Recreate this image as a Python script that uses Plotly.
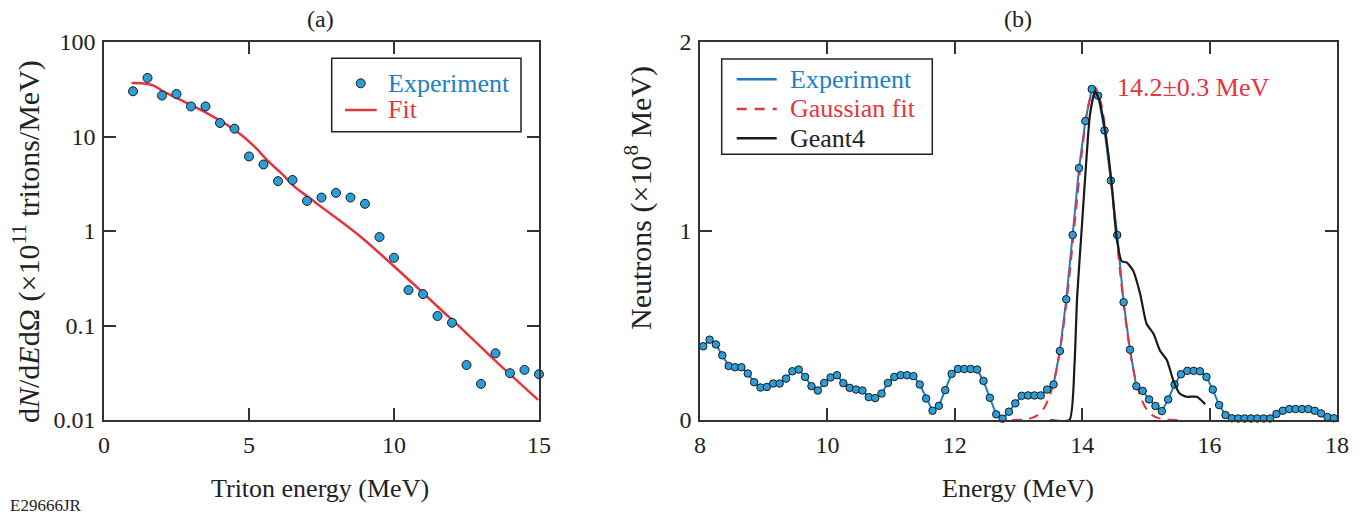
import plotly.graph_objects as go

W, H = 1364, 516
FONT = "Liberation Serif"
BLUE_FILL = "#2a9ed8"
BLUE_LINE = "#1f7cc2"
BLUE_TEXT = "#2080c6"
RED = "#e5343d"
AXIS = "#333333"

# ---------------- Panel (a) data ----------------
triton_energy = [1.0, 1.5, 2.0, 2.5, 3.0, 3.5, 4.0, 4.5, 5.0, 5.5, 6.0, 6.5, 7.0, 7.5,
                 8.0, 8.5, 9.0, 9.5, 10.0, 10.5, 11.0, 11.5, 12.0, 12.5, 13.0, 13.5,
                 14.0, 14.5, 15.0]
triton_counts = [30.1, 41.7, 27.1, 28.2, 20.8, 20.8, 13.9, 12.1, 6.15, 5.06, 3.37, 3.47,
                 2.08, 2.26, 2.53, 2.26, 1.94, 0.863, 0.521, 0.237, 0.215, 0.126, 0.107,
                 0.0382, 0.0241, 0.0508, 0.0313, 0.0339, 0.0305]
fit_energy = [0.95, 1.3, 1.69, 1.98, 2.55, 3.47, 4.51, 5.2, 5.66, 6.12, 6.58, 7.03, 7.72,
              8.88, 9.79, 10.71, 11.63, 12.32, 13.47, 14.97]
fit_counts = [36.9, 36.6, 34.8, 30.8, 25.1, 18.2, 11.7, 7.76, 5.48, 4.07, 2.93, 2.30, 1.60,
              0.855, 0.484, 0.268, 0.146, 0.0934, 0.0431, 0.0163]
a_ytickvals = [0.01, 0.1, 1, 10, 100]
a_yticktext = ["0.01", "0.1", "1", "10", "100"]
a_xtickvals = [0, 5, 10, 15]

# ---------------- Panel (b) data ----------------
neutron_energy = [round(8.05 + 0.1 * i, 2) for i in range(100)]
neutron_counts = [0.39, 0.425, 0.40, 0.342, 0.286, 0.279, 0.279, 0.246, 0.20, 0.172,
                  0.175, 0.193, 0.193, 0.219, 0.258, 0.267, 0.228, 0.179, 0.156, 0.196,
                  0.225, 0.237, 0.195, 0.170, 0.161, 0.156, 0.121, 0.116, 0.140, 0.196,
                  0.228, 0.237, 0.237, 0.232, 0.188, 0.114, 0.049, 0.075, 0.158, 0.244,
                  0.270, 0.270, 0.270, 0.267, 0.207, 0.118, 0.030, 0.007, 0.044, 0.088,
                  0.128, 0.130, 0.130, 0.130, 0.161, 0.188, 0.365, 0.639, 0.979, 1.333,
                  1.582, 1.751, 1.716, 1.532, 1.267, 0.979, 0.623, 0.372, 0.179, 0.154,
                  0.109, 0.074, 0.047, 0.109, 0.188, 0.242, 0.260, 0.260, 0.258, 0.228,
                  0.161, 0.079, 0.026, 0.009, 0.008, 0.008, 0.008, 0.008, 0.008, 0.008,
                  0.032, 0.049, 0.058, 0.058, 0.058, 0.058, 0.049, 0.035, 0.016, 0.009]
gauss_energy = [12.9, 13.0, 13.1, 13.2, 13.3, 13.4, 13.5, 13.6, 13.7, 13.8, 13.9, 14.0,
                14.1, 14.2, 14.3, 14.4, 14.5, 14.6, 14.7, 14.8, 14.9, 15.0, 15.1, 15.2,
                15.3, 15.4, 15.5]
gauss_counts = [0.0003, 0.001, 0.003, 0.010, 0.026, 0.063, 0.137, 0.27, 0.479, 0.766, 1.10,
                1.43, 1.67, 1.76, 1.67, 1.43, 1.10, 0.766, 0.479, 0.27, 0.137, 0.063, 0.026,
                0.010, 0.003, 0.001, 0.0003]
geant_energy = [13.5, 13.8, 13.88, 13.92, 13.99, 14.06, 14.12, 14.20, 14.26, 14.36, 14.46,
                14.54, 14.62, 14.70, 14.80, 14.91, 15.01, 15.12, 15.22, 15.33, 15.43, 15.53,
                15.64, 15.80, 15.93]
geant_counts = [0.0, 0.0, 0.30, 0.65, 1.0, 1.35, 1.61, 1.74, 1.70, 1.53, 1.26, 0.965, 0.84,
                0.833, 0.79, 0.667, 0.509, 0.456, 0.368, 0.316, 0.21, 0.14, 0.123, 0.123,
                0.084]
b_xtickvals = [8, 10, 12, 14, 16, 18]
b_ytickvals = [0, 1, 2]


def px(x):
    return x / W


def py(y):
    return 1 - y / H


fig = go.Figure()

# Panel (a)
fig.add_trace(go.Scatter(x=fit_energy, y=fit_counts, mode="lines",
                         line=dict(color=RED, width=2.5, shape="spline", smoothing=1.0),
                         xaxis="x", yaxis="y", showlegend=False))
fig.add_trace(go.Scatter(x=triton_energy, y=triton_counts, mode="markers",
                         marker=dict(size=9, color=BLUE_FILL, line=dict(color="#1a1a1a", width=1)),
                         xaxis="x", yaxis="y", showlegend=False, cliponaxis=False))

# Panel (b)
fig.add_trace(go.Scatter(x=neutron_energy, y=neutron_counts, mode="lines",
                         line=dict(color=BLUE_LINE, width=2),
                         xaxis="x2", yaxis="y2", showlegend=False))
fig.add_trace(go.Scatter(x=gauss_energy, y=gauss_counts, mode="lines",
                         line=dict(color=RED, width=2, dash="10px,7px", shape="spline", smoothing=0.8),
                         xaxis="x2", yaxis="y2", showlegend=False))
fig.add_trace(go.Scatter(x=neutron_energy, y=neutron_counts, mode="markers",
                         marker=dict(size=7.5, color=BLUE_FILL, line=dict(color="#1a1a1a", width=1)),
                         xaxis="x2", yaxis="y2", showlegend=False, cliponaxis=False))
fig.add_trace(go.Scatter(x=geant_energy, y=geant_counts, mode="lines",
                         line=dict(color="#1a1a1a", width=2.2, shape="spline", smoothing=0.5),
                         xaxis="x2", yaxis="y2", showlegend=False))

axis_common = dict(showgrid=False, zeroline=False, showline=True, linecolor=AXIS, linewidth=1.5,
                   mirror="ticks", ticks="inside", ticklen=12, tickwidth=1.5, tickcolor=AXIS,
                   automargin=False, ticklabelstandoff=2,
                   tickfont=dict(family=FONT, size=24, color="#222222"))

fig.update_layout(
    template="none",
    width=W, height=H,
    margin=dict(l=0, r=0, t=0, b=0, pad=0),
    paper_bgcolor="white", plot_bgcolor="white",
    showlegend=False,
    xaxis=dict(domain=[px(104), px(539)], range=[0, 15], tickvals=a_xtickvals, anchor="y",
               **axis_common),
    yaxis=dict(domain=[py(420), py(42)], type="log", range=[-2, 2], tickvals=a_ytickvals,
               ticktext=a_yticktext, anchor="x", **axis_common),
    xaxis2=dict(domain=[px(700), px(1337)], range=[8, 18], tickvals=b_xtickvals, anchor="y2",
                **axis_common),
    yaxis2=dict(domain=[py(420), py(42)], range=[0, 2], tickvals=b_ytickvals, anchor="x2",
                **axis_common),
)

ann = []


def text(x, y, s, size=26, color="#222222", xanchor="center", angle=0):
    ann.append(dict(xref="paper", yref="paper", x=px(x), y=py(y), text=s, showarrow=False,
                    xanchor=xanchor, yanchor="middle", textangle=angle,
                    font=dict(family=FONT, size=size, color=color)))


text(320, 19, "(a)", size=24)
text(1018, 19, "(b)", size=24)
text(320, 488, "Triton energy (MeV)")
text(1018, 488, "Energy (MeV)")
text(27, 242, "d<i>N</i>/d<i>E</i>dΩ (×10<sup>11</sup> tritons/MeV)", size=30, angle=-90)
text(638, 198, "Neutrons (×10<sup>8</sup> MeV)", size=30, angle=-90)
text(8, 505, "E29666JR", size=17, xanchor="left")
ann.append(dict(xref="x2", yref="y2", x=14.52, y=1.76, text="14.2±0.3 MeV", showarrow=False,
                xanchor="left", yanchor="middle", font=dict(family=FONT, size=26, color=RED)))

# Legend (a)
text(385.7, 83, "Experiment", color=BLUE_TEXT, xanchor="left")
text(385.7, 110, "Fit", color=RED, xanchor="left")
# Legend (b)
text(788.3, 79, "Experiment", color=BLUE_TEXT, xanchor="left")
text(788.3, 109, "Gaussian fit", color=RED, xanchor="left")
text(788.3, 138, "Geant4", color="#222222", xanchor="left")

shapes = []


def rect(x0, y0, x1, y1):
    shapes.append(dict(type="rect", xref="paper", yref="paper", x0=px(x0), x1=px(x1),
                       y0=py(y0), y1=py(y1), line=dict(color="#222222", width=1.5)))


def hline(x0, x1, y, color, dash="solid", width=2.5):
    shapes.append(dict(type="line", xref="paper", yref="paper", x0=px(x0), x1=px(x1),
                       y0=py(y), y1=py(y), line=dict(color=color, width=width, dash=dash)))


rect(331.7, 58.3, 521, 131.7)
shapes.append(dict(type="circle", xref="paper", yref="paper", x0=px(356.2), x1=px(365.2),
                   y0=py(87.8), y1=py(78.8), fillcolor=BLUE_FILL,
                   line=dict(color="#1a1a1a", width=1)))
hline(345, 376.7, 110, RED)

rect(721.7, 59, 932.3, 154.3)
hline(736.7, 776.7, 79.3, BLUE_LINE)
hline(736.7, 776.7, 109, RED, dash="10px,8px")
hline(736.7, 776.7, 138.3, "#1a1a1a")

fig.update_layout(annotations=ann, shapes=shapes)
fig.write_html("out.html", config={"displayModeBar": False},
               post_script="document.body.style.margin='0';document.body.style.overflow='hidden';")
